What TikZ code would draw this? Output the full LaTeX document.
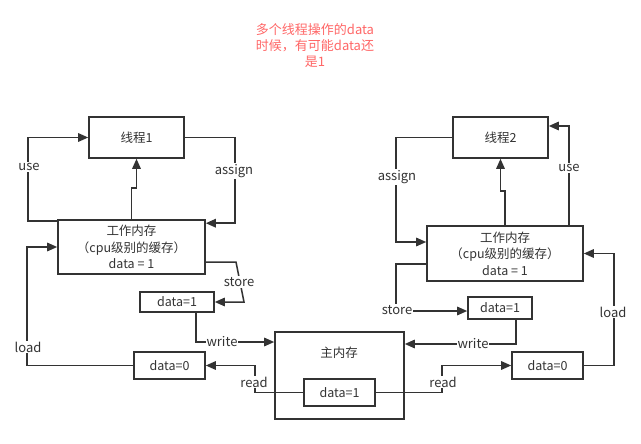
\documentclass[tikz,border=0pt]{standalone}
\usepackage{fontspec}
\setmainfont{Noto Sans CJK SC}
\usetikzlibrary{arrows.meta}
\definecolor{ln}{HTML}{333333}
\definecolor{note}{HTML}{FF6666}
\begin{document}
\begin{tikzpicture}[x=1pt,y=-1pt,
  box/.style={draw=ln, line width=1.6pt, fill=white, text=ln, inner sep=0pt, align=center, font=\fontsize{12.5}{16.5}\selectfont},
  conn/.style={draw=ln, line width=1.5pt, -{Triangle[length=10pt,width=8.5pt]}},
  lbl/.style={fill=white, text=ln, inner sep=1pt, font=\fontsize{13}{14}\selectfont}]
\useasboundingbox (0,0) rectangle (641,444);

% title
\node[text=note, align=center, font=\fontsize{13}{16}\selectfont] (title) at (315,46) {多个线程操作的data\\时候，有可能data还\\是1};

% boxes
\node[box, minimum width=95pt, minimum height=41pt] (t1) at (136.5,137.5) {线程1};
\node[box, minimum width=147pt, minimum height=54pt] (wm1) at (131.5,247) {工作内存\\（cpu级别的缓存）\\data = 1};
\node[box, minimum width=74pt, minimum height=20pt] (d1L) at (177,302) {data=1};
\node[box, minimum width=71pt, minimum height=27pt] (d0L) at (169.5,365.5) {data=0};
\node[box, minimum width=129pt, minimum height=87pt] (mm) at (339.5,375.5) {};
\node[text=ln, font=\fontsize{12.5}{14}\selectfont] (mmlabel) at (339,353) {主内存};
\node[box, minimum width=71pt, minimum height=27pt] (din) at (339.5,392.5) {data=1};
\node[box, minimum width=95pt, minimum height=41pt] (t2) at (500.5,137.5) {线程2};
\node[box, minimum width=156pt, minimum height=55pt] (wm2) at (505,253.5) {工作内存\\（cpu级别的缓存）\\data = 1};
\node[box, minimum width=64pt, minimum height=22pt] (d1R) at (500,308) {data=1};
\node[box, minimum width=71pt, minimum height=27pt] (d0R) at (547.5,365.5) {data=0};

% left side connectors
\draw[conn] ([yshift=-2pt]wm1.north west) -| ([xshift=-60pt]t1.west) -- (t1.west);
\node[lbl] (use1) at (29,167) {use};
\draw[conn] (t1.east) -| ([xshift=29pt,yshift=-4pt]wm1.north east) -- ([yshift=-4pt]wm1.north east);
\node[lbl] (assign1) at (234,171) {assign};
\draw[conn] (wm1.north) -- ++(0,-31) -| (t1.south);
\coordinate (s1a) at (236,262);
\coordinate (s1b) at (244,302);
\draw[conn] ([yshift=-15pt]wm1.east) -- (s1a) -- (s1b) -- (d1L.east);
\node[lbl] (store1) at (239,282) {store};
\draw[conn] ([xshift=19pt]d1L.south) |- ([yshift=33.5pt]mm.west);
\node[lbl] (write1) at (222,342) {write};
\draw[conn] (din.west) -| ([xshift=49pt]d0L.east) -- (d0L.east);
\node[lbl] (read1) at (254,382) {read};
\draw[conn] (d0L.west) -| ([xshift=-30pt]wm1.west) -- (wm1.west);
\node[lbl] (load1) at (28,347) {load};

% right side connectors
\draw[conn] (t2.west) -| ([xshift=-30pt,yshift=11.5pt]wm2.west) -- ([yshift=11.5pt]wm2.west);
\node[lbl] (assign2) at (397,177) {assign};
\draw[conn] (wm2.north) -- ++(0,-34) -| (t2.south);
\draw[conn] ([xshift=64pt]wm2.north) |- ([yshift=11.5pt]t2.east);
\node[lbl] (use2) at (569,168) {use};
\draw[conn] ([yshift=-10.5pt]wm2.west) -| ([xshift=-71pt,yshift=-3pt]d1R.west) -- ([yshift=-3pt]d1R.west);
\node[lbl] (store2) at (397,310) {store};
\draw[conn] ([xshift=16pt]d1R.south) |- ([yshift=31.5pt]mm.east);
\node[lbl] (write2) at (473,344) {write};
\draw[conn] (din.east) -| ([xshift=-69pt]d0R.west) -- (d0R.west);
\node[lbl] (read2) at (443,382) {read};
\draw[conn] (d0R.east) -| ([xshift=30pt]wm2.east) -- (wm2.east);
\node[lbl] (load2) at (613,312) {load};
\end{tikzpicture}
\end{document}
